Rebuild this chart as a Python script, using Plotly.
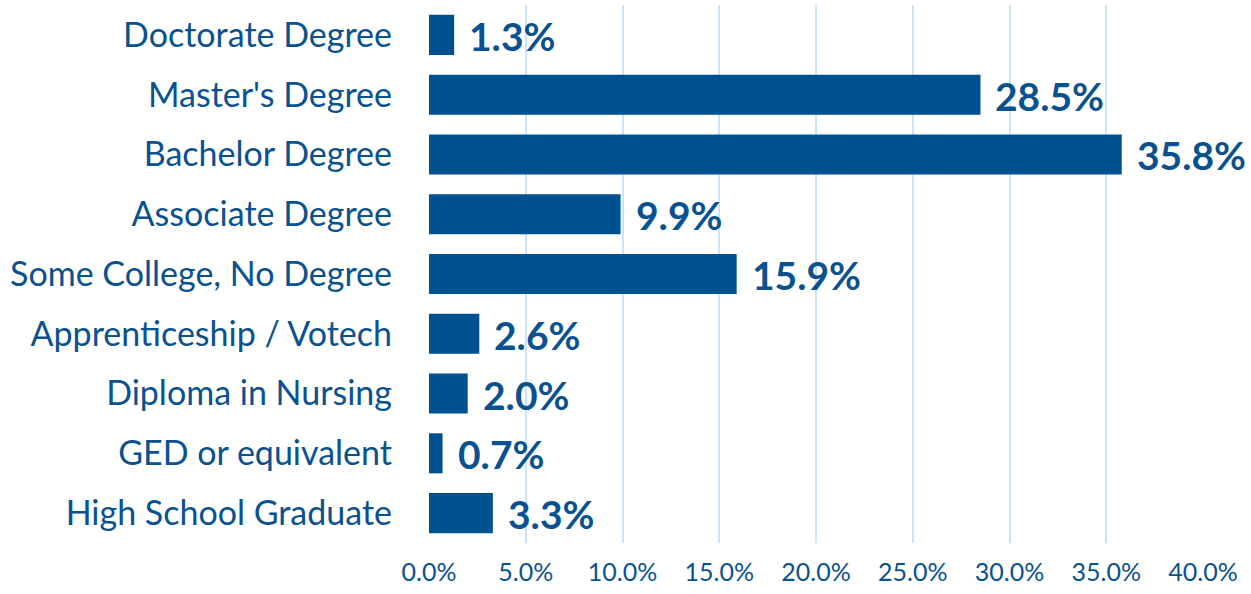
import plotly.graph_objects as go

categories = ["Doctorate Degree", "Master's Degree", "Bachelor Degree", "Associate Degree",
              "Some College, No Degree", "Apprenticeship / Votech", "Diploma in Nursing",
              "GED or equivalent", "High School Graduate"]
values = [1.3, 28.5, 35.8, 9.9, 15.9, 2.6, 2.0, 0.7, 3.3]
tick_vals = [0, 5, 10, 15, 20, 25, 30, 35, 40]
tick_text = ["0.0%", "5.0%", "10.0%", "15.0%", "20.0%", "25.0%", "30.0%", "35.0%", "40.0%"]

BAR = "#00518F"
TXT = "#0A5190"
FONT = "Lato"

fig = go.Figure(go.Bar(
    x=values, y=categories, orientation="h",
    marker=dict(color=BAR, line=dict(width=0)),
    width=0.67, hoverinfo="skip",
))

for c, v in zip(categories, values):
    fig.add_annotation(x=v, y=c, text=f"<b>{v:.1f}%</b>", showarrow=False,
                       xanchor="left", xshift=13, yshift=-1,
                       font=dict(family=FONT, size=39, color=TXT))

fig.update_layout(
    width=1251, height=594,
    margin=dict(l=429, r=48, t=5, b=51, autoexpand=False),
    paper_bgcolor="white", plot_bgcolor="white",
    showlegend=False,
    bargap=0.33,
)
fig.update_xaxes(range=[0, 40], tickvals=tick_vals, ticktext=tick_text,
                 showgrid=True, gridcolor="#CCE4FA", gridwidth=1.5,
                 zeroline=False, showline=False, automargin=False,
                 tickfont=dict(family=FONT, size=25, color=TXT), ticklabelstandoff=12)
fig.update_yaxes(autorange="reversed", showgrid=False, showline=False, automargin=False,
                 tickfont=dict(family=FONT, size=34, color=TXT), ticklabelstandoff=36)

fig.write_html("out.html", config={"displayModeBar": False},
               post_script="document.body.style.margin='0';document.body.style.overflow='hidden';")
